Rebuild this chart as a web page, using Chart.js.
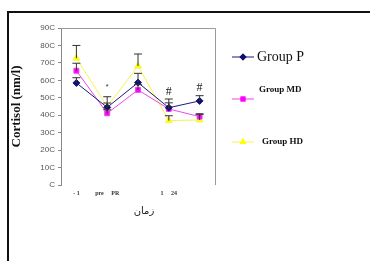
<!DOCTYPE html>
<html lang="en">
<head>
  <meta charset="UTF-8">
  <title>Cortisol</title>
  <script src="https://cdn.jsdelivr.net/npm/chart.js"></script>
  <style>
    body { margin: 0; background: #fff; overflow: hidden; }
    #frame { position: absolute; left: 7px; top: 11px; width: 400px; height: 300px; border: 2px solid #111; }
    #wrap { position: absolute; left: 0; top: 0; width: 370px; height: 261px; }
  </style>
</head>
<body>
  <div id="frame"></div>
  <div id="wrap"><canvas id="chart" width="370" height="261"></canvas></div>

  <script>
    // data
    const categories = ['- 1', 'pre     PR', '', '1     24', ''];
    const groupP  = [585, 445, 587, 443, 482];
    const groupMD = [655, 411, 545, 436, 392];
    const groupHD = [727, 449, 682, 369, 373];
    const errP  = [30, 25, 53, 50, 30];
    const errMD = [43, 20, 30, 35, 13];
    const errHD = [73, 57, 69, 28, 35];
    const marks = ['', '*', '', '#', '#'];
    const markValues = [0, 560, 0, 533, 555];
    const yTickLabels = ['C', '10C', '20C', '30C', '40C', '50C', '60C', '70C', '80C', '90C'];
    const xTitle = 'زمان';

    const errors = [errP, errMD, errHD];

    const errorBars = {
      id: 'errorBars',
      afterDatasetsDraw(chart) {
        const ctx = chart.ctx;
        const y = chart.scales.y;
        ctx.save();
        ctx.strokeStyle = '#333';
        ctx.lineWidth = 1;
        chart.data.datasets.forEach((ds, i) => {
          chart.getDatasetMeta(i).data.forEach((pt, j) => {
            const top = y.getPixelForValue(ds.data[j] + errors[i][j]);
            ctx.beginPath();
            ctx.moveTo(pt.x, pt.y);
            ctx.lineTo(pt.x, top);
            ctx.moveTo(pt.x - 4, top);
            ctx.lineTo(pt.x + 4, top);
            ctx.stroke();
          });
        });
        // significance marks
        ctx.fillStyle = '#222';
        ctx.textAlign = 'center';
        ctx.textBaseline = 'middle';
        const xs = chart.scales.x;
        marks.forEach((m, j) => {
          if (!m) return;
          ctx.font = m === '*' ? '7px "Liberation Sans"' : '12px "Liberation Serif"';
          ctx.fillText(m, xs.getPixelForValue(j), y.getPixelForValue(markValues[j]));
        });
        ctx.restore();
      }
    };

    const frameAndLegend = {
      id: 'frameAndLegend',
      afterDraw(chart) {
        const ctx = chart.ctx;
        const a = chart.chartArea;
        ctx.save();
        ctx.strokeStyle = '#999';
        ctx.lineWidth = 1;
        ctx.beginPath();
        ctx.moveTo(a.left, a.top + 0.5);
        ctx.lineTo(a.right + 0.5, a.top + 0.5);
        ctx.lineTo(a.right + 0.5, a.bottom);
        ctx.stroke();

        // x title
        ctx.fillStyle = '#222';
        ctx.font = '10px "DejaVu Sans"';
        ctx.textAlign = 'center';
        ctx.textBaseline = 'middle';
        ctx.fillText(xTitle, (a.left + a.right) / 2 + 6, 211);

        // legend
        const items = [
          { y: 57, ty: 57, tx: 257, font: '14px "Liberation Serif"' },
          { y: 99, ty: 90, tx: 259, font: 'bold 9px "Liberation Serif"' },
          { y: 142, ty: 142, tx: 262, font: 'bold 9px "Liberation Serif"' }
        ];
        chart.data.datasets.forEach((ds, i) => {
          const it = items[i];
          ctx.strokeStyle = ds.borderColor;
          ctx.lineWidth = 1;
          ctx.beginPath();
          ctx.moveTo(232, it.y);
          ctx.lineTo(254, it.y);
          ctx.stroke();
          ctx.fillStyle = ds.backgroundColor;
          Chart.helpers.drawPoint(ctx, { pointStyle: ds.pointStyle, radius: ds.pointRadius, rotation: ds.pointRotation || 0 }, 243, it.y);
          ctx.fill();
          ctx.fillStyle = '#111';
          ctx.font = it.font;
          ctx.textAlign = 'left';
          ctx.fillText(ds.label, it.tx, it.ty);
        });
        ctx.restore();
      }
    };

    new Chart(document.getElementById('chart'), {
      type: 'line',
      data: {
        labels: categories,
        datasets: [
          { label: 'Group P', data: groupP, borderColor: '#1a1a7a', backgroundColor: '#101070',
            pointStyle: 'rectRot', pointRadius: 3.5, borderWidth: 1 },
          { label: 'Group MD', data: groupMD, borderColor: '#ee44ee', backgroundColor: '#ff00ff',
            pointStyle: 'rect', pointRadius: 3.5, borderWidth: 1 },
          { label: 'Group HD', data: groupHD, borderColor: '#f4f450', backgroundColor: '#ffff00',
            pointStyle: 'triangle', pointRadius: 4, borderWidth: 1 }
        ]
      },
      options: {
        responsive: false,
        animation: false,
        layout: { padding: { left: 0, top: 28, right: 155, bottom: 56 } },
        plugins: { legend: { display: false }, tooltip: { enabled: false } },
        elements: { line: { tension: 0 }, point: { borderWidth: 0 } },
        scales: {
          x: {
            offset: true,
            grid: { display: false },
            border: { display: false },
            afterFit: s => { s.height = 20; },
            ticks: { padding: -3, autoSkip: false, maxRotation: 0, color: '#333',
              font: { family: 'Liberation Serif', size: 6, weight: 'bold' } }
          },
          y: {
            min: 0, max: 900,
            afterFit: s => { s.width = 61; },
            grid: { drawOnChartArea: false, tickLength: 3, color: '#888' },
            border: { color: '#888' },
            ticks: { stepSize: 100, padding: 3, color: '#555',
              font: { family: 'Liberation Sans', size: 8 },
              callback: v => yTickLabels[v / 100] },
            title: { display: true, text: 'Cortisol (nm/l)', color: '#111', padding: { top: 9, bottom: 0 },
              font: { family: 'Liberation Serif', size: 13, weight: 'bold' } }
          }
        }
      },
      plugins: [errorBars, frameAndLegend]
    });
  </script>
</body>
</html>
